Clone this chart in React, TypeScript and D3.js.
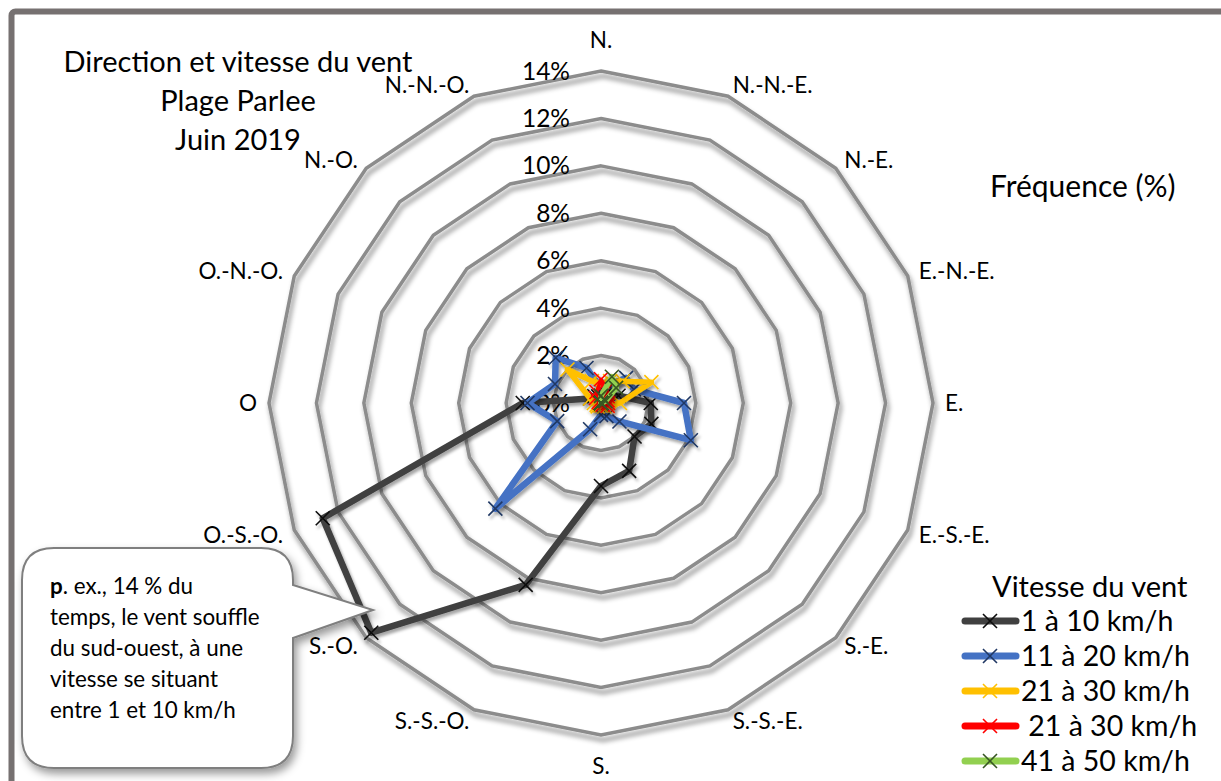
import React from "react";
import * as d3 from "d3";

const directions = ["N.", "N.-N.-E.", "N.-E.", "E.-N.-E.", "E.", "E.-S.-E.", "S.-E.", "S.-S.-E.", "S.", "S.-S.-O.", "S.-O.", "O.-S.-O.", "O", "O.-N.-O.", "N.-O.", "N.-N.-O."];
const ticks = [0, 2, 4, 6, 8, 10, 12, 14];
const tickLabels = ["0%", "2%", "4%", "6%", "8%", "10%", "12%", "14%"];

const speed1to10 = [0.3, 0.3, 0.4, 0.8, 2.1, 2.3, 2.0, 3.1, 3.5, 8.3, 13.7, 12.7, 3.3, 0.5, 0.4, 0.3];
const speed11to20 = [0.6, 0.8, 1.5, 1.5, 3.5, 4.1, 1.1, 0.6, 0.5, 1.2, 6.3, 2.0, 3.1, 2.1, 2.7, 1.6];
const speed21to30 = [0.8, 1.0, 1.3, 2.3, 0.8, 0.3, 0.2, 0.1, 0.1, 0.1, 0.2, 0.2, 0.3, 0.5, 2.0, 1.0];
const speed31to40 = [1.0, 0.6, 0.4, 0.3, 0.3, 0.3, 0.1, 0, 0, 0, 0, 0, 0, 0.1, 0.3, 0.5];
const speed41to50 = [0.3, 1.2, 0.9, 0.2, 0, 0, 0, 0, 0, 0, 0, 0, 0, 0, 0, 0];

const seriesNames = ["1 à 10 km/h", "11 à 20 km/h", "21 à 30 km/h", " 21 à 30 km/h", "41 à 50 km/h"];
const seriesValues = [speed1to10, speed11to20, speed21to30, speed31to40, speed41to50];
const lineColors = ["#404040", "#4472C4", "#FFC000", "#FF0000", "#92D050"];
const markerColors = ["#0d0d0d", "#203864", "#FFC000", "#FF0000", "#375623"];
const lineWidths = [6.5, 6.5, 5.5, 3.5, 5.5];

const titleLines = ["Direction et vitesse du vent", "Plage Parlee", "Juin 2019"];
const calloutLines = ["temps, le vent souffle", "du sud-ouest, à une", "vitesse se situant", "entre 1 et 10 km/h"];

const FONT = "Lato, 'Noto Sans', sans-serif";

export default function App() {
  const W = 1221, H = 781;
  const cx = 601, cy = 403, R = 332;
  const r = d3.scaleLinear().domain([0, 14]).range([0, R]);
  const step = (2 * Math.PI) / directions.length;
  const ang = (i: number) => i * step;
  const px = (i: number, v: number) => cx + r(v) * Math.sin(ang(i));
  const py = (i: number, v: number) => cy - r(v) * Math.cos(ang(i));

  const radial = d3
    .lineRadial<number>()
    .angle((_, i) => ang(i))
    .radius((d) => r(d))
    .curve(d3.curveLinearClosed);

  const ringPaths = ticks.filter((t) => t > 0).map((t) => radial(directions.map(() => t)) as string);

  const ms = 7;
  const xMarker = (x: number, y: number, color: string, key: string) => (
    <path key={key} d={`M${x - ms},${y - ms}L${x + ms},${y + ms}M${x - ms},${y + ms}L${x + ms},${y - ms}`} stroke={color} strokeWidth={1.6} fill="none" />
  );

  const bx0 = 22, by0 = 548, bx1 = 293, by1 = 768, cr = 32;
  const tailTop = 585, tailBot = 638, tipX = 373, tipY = 610;
  const callout = `M${bx0 + cr},${by0} L${bx1 - cr},${by0} Q${bx1},${by0} ${bx1},${by0 + cr} L${bx1},${tailTop} L${tipX},${tipY} L${bx1},${tailBot} L${bx1},${by1 - cr} Q${bx1},${by1} ${bx1 - cr},${by1} L${bx0 + cr},${by1} Q${bx0},${by1} ${bx0},${by1 - cr} L${bx0},${by0 + cr} Q${bx0},${by0} ${bx0 + cr},${by0} Z`;

  const labelR = 344;

  return (
    <svg width={W} height={H} style={{ position: "absolute", left: 0, top: 0, background: "#fff" }} fontFamily={FONT}>
      <defs>
        <filter id="sh" x="-20%" y="-20%" width="140%" height="140%">
          <feDropShadow dx="2" dy="5" stdDeviation="2.5" floodColor="#000" floodOpacity="0.45" />
        </filter>
        <filter id="sh2" x="-20%" y="-20%" width="140%" height="140%">
          <feDropShadow dx="2" dy="3" stdDeviation="1.8" floodColor="#000" floodOpacity="0.35" />
        </filter>
        <filter id="sh3" x="-20%" y="-20%" width="140%" height="140%">
          <feDropShadow dx="3" dy="5" stdDeviation="4" floodColor="#000" floodOpacity="0.4" />
        </filter>
      </defs>
      <rect x={0} y={0} width={W} height={H} fill="#fff" />
      <rect x={11.5} y={11.5} width={1300} height={900} rx={4} fill="none" stroke="#767171" strokeWidth={6} />

      {titleLines.map((t, i) => (
        <text key={t} x={238} y={72 + i * 39} textAnchor="middle" fontSize={29} fill="#000">
          {t}
        </text>
      ))}

      <g transform={`translate(${cx},${cy})`} filter="url(#sh)">
        {ringPaths.map((d, i) => (
          <path key={i} d={d} fill="none" stroke="#8c8c8c" strokeWidth={3.5} strokeLinejoin="miter" />
        ))}
      </g>

      {ticks.map((t, i) => (
        <text key={t} x={570} y={cy - r(t)} dy="0.35em" textAnchor="end" fontSize={24.5} fill="#000">
          {tickLabels[i]}
        </text>
      ))}

      {directions.map((d, i) => {
        const s = Math.sin(ang(i));
        const c = Math.cos(ang(i));
        const vertical = Math.abs(s) < 0.1;
        const rr = vertical ? 363 : labelR;
        const x = cx + rr * s;
        const y = cy - rr * c;
        const anchor = vertical ? "middle" : s > 0 ? "start" : "end";
        return (
          <text key={d} x={x} y={y} dy="0.35em" textAnchor={anchor} fontSize={22.5} fill="#000">
            {d}
          </text>
        );
      })}

      {seriesValues.map((vals, si) => (
        <g key={si} filter="url(#sh2)">
          <path
            d={radial(vals) as string}
            transform={`translate(${cx},${cy})`}
            fill="none"
            stroke={lineColors[si]}
            strokeWidth={lineWidths[si]}
            strokeLinejoin="round"
          />
          {vals.map((v, i) => xMarker(px(i, v), py(i, v), markerColors[si], `${si}-${i}`))}
        </g>
      ))}

      <text x={990} y={197} fontSize={30} fill="#000">Fréquence (%)</text>

      <text x={992} y={597} fontSize={29} fill="#000">Vitesse du vent</text>
      {seriesNames.map((n, i) => {
        const y = 621 + i * 35;
        return (
          <g key={i}>
            <line x1={965} x2={1016} y1={y} y2={y} stroke={lineColors[i]} strokeWidth={7} strokeLinecap="round" />
            {xMarker(990, y, markerColors[i], `lg${i}`)}
            <text x={1021} y={y} dy="0.35em" fontSize={28.5} fill="#000" style={{ whiteSpace: "pre" }}>
              {n}
            </text>
          </g>
        );
      })}

      <path d={callout} fill="#fff" stroke="#7f7f7f" strokeWidth={2} filter="url(#sh3)" />
      <text x={50} y={586} dy="0.35em" fontSize={22.4} fill="#000">
        <tspan fontWeight="bold">p</tspan>. ex., 14 % du
      </text>
      {calloutLines.map((t, i) => (
        <text key={t} x={50} y={617 + i * 31} dy="0.35em" fontSize={22.4} fill="#000">
          {t}
        </text>
      ))}
    </svg>
  );
}
